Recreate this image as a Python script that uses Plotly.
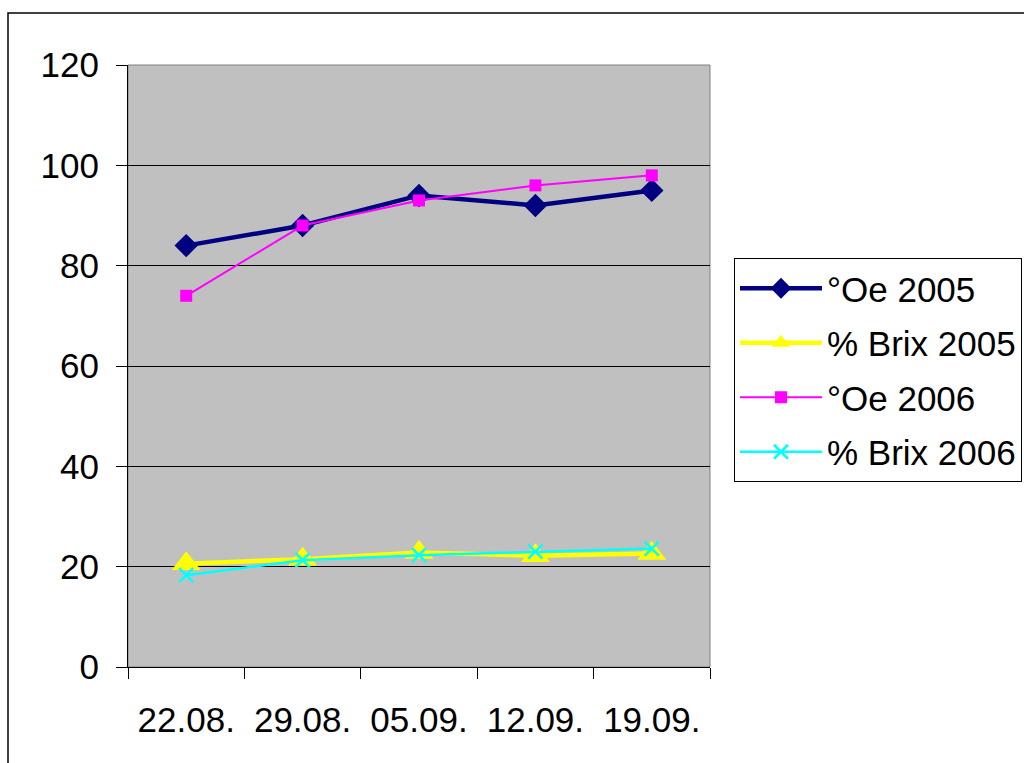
import plotly.graph_objects as go

dates = ["22.08.", "29.08.", "05.09.", "12.09.", "19.09."]
oe_2005 = [84, 88, 94, 92, 95]
brix_2005 = [20.6, 21.5, 22.8, 22.2, 22.6]
oe_2006 = [74, 88, 93, 96, 98]
brix_2006 = [18.3, 21.3, 22.3, 23.0, 23.6]
series_names = ["°Oe 2005", "% Brix 2005", "°Oe 2006", "% Brix 2006"]

FONT = "Liberation Sans, Arial, sans-serif"
W, H = 1024, 763
L, R, T, B = 128, 1024 - 710, 65, 763 - 667
pw, ph = W - L - R, H - T - B

def px_x(p):
    return (p - L) / pw

def px_y(p):
    return (H - B - p) / ph

fig = go.Figure()
fig.add_trace(go.Scatter(
    x=dates, y=oe_2005, name=series_names[0], mode="lines+markers",
    line=dict(color="#000080", width=4.5),
    marker=dict(symbol="diamond", size=18, color="#000080"),
    legendgroup="a"))
fig.add_trace(go.Scatter(
    x=dates, y=brix_2005, name=series_names[1], mode="lines+markers",
    line=dict(color="#FFFF00", width=4.5),
    marker=dict(symbol="triangle-up", size=25, color="#FFFF00"),
    legendgroup="b"))
fig.add_trace(go.Scatter(
    x=dates, y=oe_2006, name=series_names[2], mode="lines+markers",
    line=dict(color="#FF00FF", width=2),
    marker=dict(symbol="square", size=12, color="#FF00FF"),
    legendgroup="c"))
fig.add_trace(go.Scatter(
    x=dates, y=brix_2006, name=series_names[3], mode="lines+markers",
    line=dict(color="#00FFFF", width=2.5),
    marker=dict(symbol="x-thin", size=14, color="#00FFFF",
                line=dict(color="#00FFFF", width=2.5)),
    legendgroup="d"))

fig.update_layout(
    width=W, height=H,
    margin=dict(l=L, r=R, t=T, b=B, pad=0, autoexpand=False),
    paper_bgcolor="white",
    plot_bgcolor="#C0C0C0",
    font=dict(family=FONT, size=35, color="black"),
    showlegend=True,
    legend=dict(
        xref="container", yref="container",
        x=734 / W, y=1 - 258 / H, xanchor="left", yanchor="top",
        bordercolor="black", borderwidth=1, bgcolor="white",
        font=dict(family=FONT, size=35, color="black"),
        tracegroupgap=6, itemwidth=82,
    ),
    xaxis=dict(
        type="category", range=[-0.5, 4.5],
        showgrid=False, showline=True, linecolor="black", linewidth=1,
        ticks="outside", tickson="boundaries", ticklen=11, tickcolor="black",
        ticklabelstandoff=22, tickfont=dict(size=35),
        zeroline=False,
    ),
    yaxis=dict(
        range=[0, 120], dtick=20, tick0=0,
        showgrid=True, gridcolor="black", gridwidth=1,
        showline=True, linecolor="black", linewidth=1,
        ticks="outside", ticklen=11, tickcolor="black",
        ticklabelstandoff=10, tickfont=dict(size=35),
        zeroline=False,
    ),
    shapes=[
        dict(type="rect", xref="paper", yref="paper", x0=0, x1=1, y0=0, y1=1,
             line=dict(color="#808080", width=1), layer="below"),
        dict(type="rect", xref="paper", yref="paper",
             x0=px_x(8), x1=px_x(1100), y0=px_y(13), y1=px_y(820),
             line=dict(color="black", width=1.5), fillcolor="rgba(0,0,0,0)"),
    ],
)

fig.write_html(
    "out.html",
    config={"displayModeBar": False},
    post_script="document.body.style.margin='0';document.body.style.overflow='hidden';",
)
